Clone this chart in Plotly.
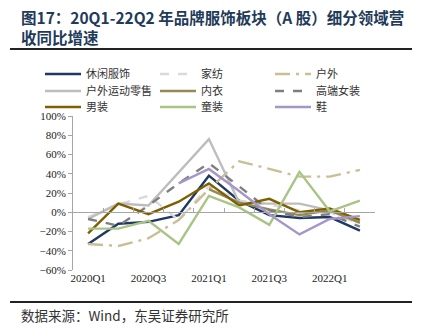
import plotly.graph_objects as go

categories = ['2020Q1', '2020Q2', '2020Q3', '2020Q4', '2021Q1',
              '2021Q2', '2021Q3', '2021Q4', '2022Q1', '2022Q2']
tick_labels = ['2020Q1', '2020Q3', '2021Q1', '2021Q3', '2022Q1']

xiuxian = [-33, -12, -10, -3, 38, 12, -3, -6, -5, -19]
jiafang = [-5, 8, 17, -8, 27, 12, 8, 2, 0, -12]
huwai = [-33, -35, -27, -8, 24, 53, 45, 37, 37, 44]
huwai_yundong = [-7, 9, 7, 42, 76, 10, 9, 9, 2, -10]
neiyi = [None, None, None, None, 24, 10, 3, -3, 2, -11]
gaoduan_nvzhuang = [-7, -14, 7, 30, 51, 27, 2, -5, -2, -15]
nanzhuang = [-22, 9, -2, 11, 30, 7, 14, 0, 4, -8]
tongzhuang = [-17, -17, -9, -33, 17, 5, -13, 42, 1, 12]
xie = [None, None, None, 30, 45, 22, -2, -23, -7, -4]

series = [
    ('休闲服饰', xiuxian, '#1F3864', 'solid'),
    ('家纺', jiafang, '#D9D9D9', 'dash'),
    ('户外', huwai, '#C9BE94', 'longdashdot'),
    ('户外运动零售', huwai_yundong, '#BDBDBD', 'solid'),
    ('内衣', neiyi, '#948A54', 'solid'),
    ('高端女装', gaoduan_nvzhuang, '#7F7F7F', 'dash'),
    ('男装', nanzhuang, '#7F6000', 'solid'),
    ('童装', tongzhuang, '#A9C485', 'solid'),
    ('鞋', xie, '#A497C8', 'solid'),
]

# layout geometry (pixels)
W, H = 425, 328
L, R, T, B = 73, 50, 116, 58
pw, ph = W - L - R, H - T - B


def px_x(px):
    return (px - L) / pw


def px_y(py):
    return (H - B - py) / ph


fig = go.Figure()
col_x = [40, 155, 270]
row_y = [74, 91, 107]
legend_layouts = {}
for i, (name, vals, color, dash) in enumerate(series):
    lname = 'legend' if i == 0 else f'legend{i + 1}'
    fig.add_trace(go.Scatter(
        x=categories, y=vals, name=name, mode='lines',
        line=dict(color=color, width=2.4, dash=dash),
        legend=lname, connectgaps=False,
    ))
    r, c = divmod(i, 3)
    legend_layouts[lname] = dict(
        x=px_x(col_x[c]), y=px_y(row_y[r]), xanchor='left', yanchor='middle',
        bgcolor='rgba(0,0,0,0)', borderwidth=0, itemwidth=36,
        font=dict(family='Noto Sans CJK SC', size=11, color='#333333'),
        tracegroupgap=0,
    )

# dummy trace for boundary tick axis at zero
fig.add_trace(go.Scatter(x=categories, y=[None] * len(categories), xaxis='x2',
                         showlegend=False, hoverinfo='skip'))

fig.update_layout(**legend_layouts)

fig.update_layout(
    width=W, height=H,
    margin=dict(l=L, r=R, t=T, b=B),
    paper_bgcolor='white', plot_bgcolor='white',
    xaxis=dict(
        type='category', categoryorder='array', categoryarray=categories,
        range=[-0.5, 9.5], tickvals=tick_labels, ticktext=tick_labels,
        showline=False, showgrid=False, zeroline=False, ticks='',
        tickfont=dict(family='Liberation Serif', size=11, color='#222222'),
    ),
    xaxis2=dict(
        type='category', categoryorder='array', categoryarray=categories,
        overlaying='x', anchor='free', position=60 / 160, range=[-0.5, 9.5],
        showline=True, linecolor='#A6A6A6', linewidth=1,
        ticks='inside', ticklen=4, tickcolor='#A6A6A6', tickson='boundaries',
        dtick=1, showticklabels=False, showgrid=False, zeroline=False,
    ),
    yaxis=dict(
        range=[-60, 100], dtick=20, ticksuffix='%',
        showline=True, linecolor='#A6A6A6', linewidth=1,
        ticks='outside', ticklen=4, tickcolor='#A6A6A6',
        showgrid=False, zeroline=False,
        tickfont=dict(family='Liberation Serif', size=11, color='#222222'),
    ),
    showlegend=True,
)

title_color = '#1F3B5A'
fig.add_annotation(text='<b>图17：20Q1-22Q2 年品牌服饰板块（A 股）细分领域营<br>收同比增速</b>',
                   xref='paper', yref='paper', x=px_x(19), y=px_y(4),
                   xanchor='left', yanchor='top', align='left', showarrow=False,
                   font=dict(family='Noto Sans CJK SC', size=15.5, color=title_color))
fig.add_annotation(text='数据来源：Wind，东吴证券研究所',
                   xref='paper', yref='paper', x=px_x(19), y=px_y(315),
                   xanchor='left', yanchor='middle', showarrow=False,
                   font=dict(family='Noto Sans CJK SC', size=13.5, color='#333333'))

for yy, wd in [(49, 2), (302, 2)]:
    fig.add_shape(type='line', xref='paper', yref='paper',
                  x0=px_x(10), x1=px_x(412), y0=px_y(yy), y1=px_y(yy),
                  line=dict(color='#222222', width=wd))

fig.write_html('out.html')
